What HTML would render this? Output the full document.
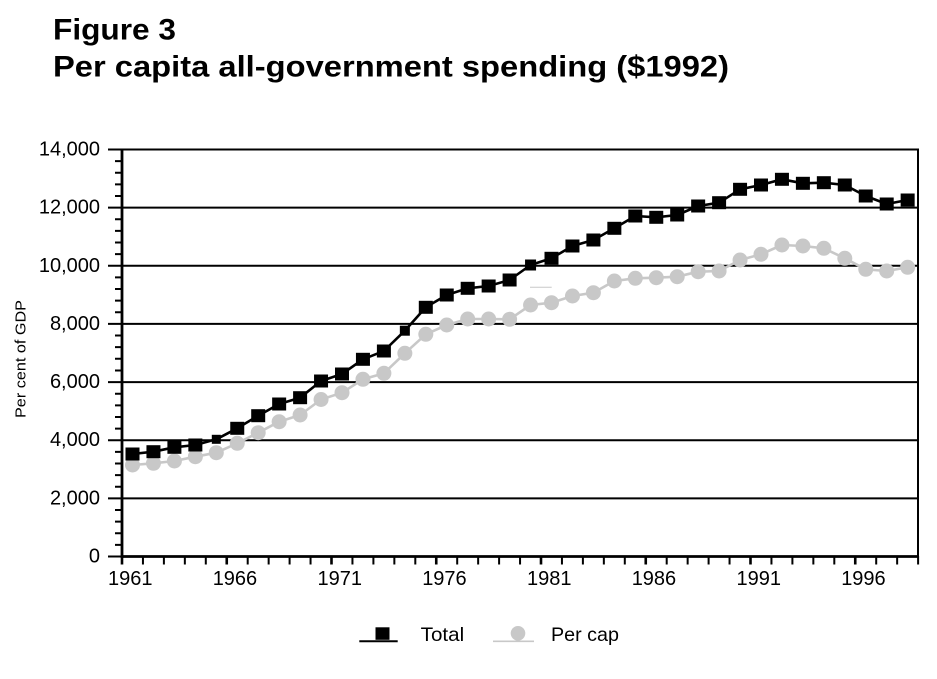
<!DOCTYPE html>
<html>
<head>
<meta charset="utf-8">
<style>
html,body{margin:0;padding:0;background:#fff;}
svg{display:block;}
text{font-family:"Liberation Sans",Arial,sans-serif;fill:#000;}
</style>
</head>
<body>
<svg width="937" height="679" viewBox="0 0 937 679" xmlns="http://www.w3.org/2000/svg">
<rect width="937" height="679" fill="#fff"/>
<!-- Titles -->
<text x="53" y="39.5" font-size="30" font-weight="bold" textLength="123" lengthAdjust="spacingAndGlyphs">Figure 3</text>
<text x="53" y="76.7" font-size="30" font-weight="bold" textLength="676" lengthAdjust="spacingAndGlyphs">Per capita all-government spending ($1992)</text>

<!-- Gridlines -->
<g stroke="#000" stroke-width="2">
<line x1="122" y1="498.4" x2="918" y2="498.4"/>
<line x1="122" y1="440.2" x2="918" y2="440.2"/>
<line x1="122" y1="382.1" x2="918" y2="382.1"/>
<line x1="122" y1="323.9" x2="918" y2="323.9"/>
<line x1="122" y1="265.8" x2="918" y2="265.8"/>
<line x1="122" y1="207.6" x2="918" y2="207.6"/>
<line x1="121" y1="149.5" x2="918" y2="149.5"/>
<line x1="918" y1="148.5" x2="918" y2="557"/>
</g>

<!-- Y ticks -->
<path stroke="#000" stroke-width="2" fill="none" d="
M115 544.87H122M115 533.24H122M115 521.61H122M115 509.98H122
M115 486.73H122M115 475.1H122M115 463.47H122M115 451.84H122
M115 428.58H122M115 416.95H122M115 405.32H122M115 393.69H122
M115 370.44H122M115 358.81H122M115 347.18H122M115 335.55H122
M115 312.29H122M115 300.66H122M115 289.03H122M115 277.4H122
M115 254.15H122M115 242.52H122M115 230.89H122M115 219.26H122
M115 196H122M115 184.37H122M115 172.74H122M115 161.11H122
M108 556.5H122M108 498.4H122M108 440.2H122M108 382.1H122M108 323.9H122M108 265.8H122M108 207.6H122M108 149.5H122"/>

<!-- X ticks -->
<path stroke="#000" stroke-width="2" fill="none" d="
M142.95 556V564.5M163.9 556V564.5M184.85 556V564.5M205.8 556V564.5
M247.7 556V564.5M268.65 556V564.5M289.6 556V564.5M310.55 556V564.5
M352.45 556V564.5M373.4 556V564.5M394.35 556V564.5M415.3 556V564.5
M457.2 556V564.5M478.15 556V564.5M499.1 556V564.5M520.05 556V564.5
M561.95 556V564.5M582.9 556V564.5M603.85 556V564.5M624.8 556V564.5
M666.7 556V564.5M687.65 556V564.5M708.6 556V564.5M729.55 556V564.5
M771.45 556V564.5M792.4 556V564.5M813.35 556V564.5M834.3 556V564.5
M876.2 556V564.5M897.15 556V564.5M918.1 556V564.5"/>
<path stroke="#000" stroke-width="2.6" fill="none" d="
M122 556V564.5M226.75 556V564.5M331.5 556V564.5M436.25 556V564.5M541 556V564.5M645.75 556V564.5M750.5 556V564.5M855.25 556V564.5"/>

<!-- Axes -->
<line x1="122" y1="148.5" x2="122" y2="558" stroke="#000" stroke-width="2.8"/>
<line x1="121" y1="556.5" x2="919" y2="556.5" stroke="#000" stroke-width="2.8"/>

<!-- Y labels -->
<g font-size="20" text-anchor="end">
<text x="100" y="155.5">14,000</text>
<text x="100" y="213.6">12,000</text>
<text x="100" y="271.8">10,000</text>
<text x="100" y="329.9">8,000</text>
<text x="100" y="388.1">6,000</text>
<text x="100" y="446.2">4,000</text>
<text x="100" y="504.4">2,000</text>
<text x="100" y="562.5">0</text>
</g>

<!-- Y axis title -->
<text transform="translate(25.5,359) rotate(-90)" font-size="15" text-anchor="middle" textLength="118" lengthAdjust="spacingAndGlyphs">Per cent of GDP</text>

<!-- X labels -->
<g font-size="20">
<text x="108" y="585">1961</text>
<text x="212.7" y="585">1966</text>
<text x="317.5" y="585">1971</text>
<text x="422.2" y="585">1976</text>
<text x="527" y="585">1981</text>
<text x="631.7" y="585">1986</text>
<text x="736.5" y="585">1991</text>
<text x="841.2" y="585">1996</text>
</g>

<!-- Per cap series -->
<polyline fill="none" stroke="#c8c8c8" stroke-width="2.6" stroke-linejoin="round" points="132.5,465 153.45,463.3 174.4,461 195.35,456.7 216.3,452.7 237.25,443.3 258.2,432.7 279.15,421.7 300.1,415 321.05,399.5 342,392.7 362.95,379.3 383.9,373.3 404.85,353.3 425.8,334.3 446.75,325 467.7,319 488.65,319 509.6,319.3 530.55,305 551.5,302.7 572.45,296 593.4,292.7 614.35,281 635.3,278.3 656.25,277.7 677.2,276.7 698.15,271.7 719.1,271 740.05,260 761,254.3 781.95,245 802.9,246 823.85,248.3 844.8,258.3 865.75,269.3 886.7,271 907.65,267.3"/>
<line x1="530" y1="287.3" x2="551.7" y2="287.3" stroke="#c8c8c8" stroke-width="1"/>

<!-- Total series -->
<polyline fill="none" stroke="#000" stroke-width="2.6" stroke-linejoin="round" points="132.5,454 153.45,451.7 174.4,447.3 195.35,445 216.3,439.3 237.25,428.3 258.2,415.7 279.15,404 300.1,397.7 321.05,381 342,374 362.95,359.3 383.9,351 404.85,330.7 425.8,307.3 446.75,295 467.7,288.3 488.65,286 509.6,280 530.55,265 551.5,258.3 572.45,246 593.4,240 614.35,228.3 635.3,216 656.25,217.3 677.2,215 698.15,206 719.1,202.7 740.05,189.3 761,185 781.95,179.3 802.9,183.3 823.85,182.7 844.8,185 865.75,196 886.7,204 907.65,200"/>

<!-- Per cap markers -->
<g fill="#c8c8c8">
<circle cx="132.5" cy="465" r="7.5"/>
<circle cx="153.45" cy="463.3" r="7.5"/>
<circle cx="174.4" cy="461" r="7.5"/>
<circle cx="195.35" cy="456.7" r="7.5"/>
<circle cx="216.3" cy="452.7" r="7.5"/>
<circle cx="237.25" cy="443.3" r="7.5"/>
<circle cx="258.2" cy="432.7" r="7.5"/>
<circle cx="279.15" cy="421.7" r="7.5"/>
<circle cx="300.1" cy="415" r="7.5"/>
<circle cx="321.05" cy="399.5" r="7.5"/>
<circle cx="342" cy="392.7" r="7.5"/>
<circle cx="362.95" cy="379.3" r="7.5"/>
<circle cx="383.9" cy="373.3" r="7.5"/>
<circle cx="404.85" cy="353.3" r="7.5"/>
<circle cx="425.8" cy="334.3" r="7.5"/>
<circle cx="446.75" cy="325" r="7.5"/>
<circle cx="467.7" cy="319" r="7.5"/>
<circle cx="488.65" cy="319" r="7.5"/>
<circle cx="509.6" cy="319.3" r="7.5"/>
<circle cx="530.55" cy="305" r="7.5"/>
<circle cx="551.5" cy="302.7" r="7.5"/>
<circle cx="572.45" cy="296" r="7.5"/>
<circle cx="593.4" cy="292.7" r="7.5"/>
<circle cx="614.35" cy="281" r="7.5"/>
<circle cx="635.3" cy="278.3" r="7.5"/>
<circle cx="656.25" cy="277.7" r="7.5"/>
<circle cx="677.2" cy="276.7" r="7.5"/>
<circle cx="698.15" cy="271.7" r="7.5"/>
<circle cx="719.1" cy="271" r="7.5"/>
<circle cx="740.05" cy="260" r="7.5"/>
<circle cx="761" cy="254.3" r="7.5"/>
<circle cx="781.95" cy="245" r="7.5"/>
<circle cx="802.9" cy="246" r="7.5"/>
<circle cx="823.85" cy="248.3" r="7.5"/>
<circle cx="844.8" cy="258.3" r="7.5"/>
<circle cx="865.75" cy="269.3" r="7.5"/>
<circle cx="886.7" cy="271" r="7.5"/>
<circle cx="907.65" cy="267.3" r="7.5"/>
</g>

<!-- Total markers -->
<g fill="#000">
<rect x="125.5" y="447.5" width="14" height="13"/>
<rect x="146.45" y="445.2" width="14" height="13"/>
<rect x="167.4" y="440.8" width="14" height="13"/>
<rect x="188.35" y="438.5" width="14" height="13"/>
<rect x="211.8" y="434.8" width="9" height="9"/>
<rect x="230.25" y="421.8" width="14" height="13"/>
<rect x="251.2" y="409.2" width="14" height="13"/>
<rect x="272.15" y="397.5" width="14" height="13"/>
<rect x="293.1" y="391.2" width="14" height="13"/>
<rect x="314.05" y="374.5" width="14" height="13"/>
<rect x="335" y="367.5" width="14" height="13"/>
<rect x="355.95" y="352.8" width="14" height="13"/>
<rect x="376.9" y="344.5" width="14" height="13"/>
<rect x="399.85" y="325.7" width="10" height="10"/>
<rect x="418.8" y="300.8" width="14" height="13"/>
<rect x="439.75" y="288.5" width="14" height="13"/>
<rect x="460.7" y="281.8" width="14" height="13"/>
<rect x="481.65" y="279.5" width="14" height="13"/>
<rect x="502.6" y="273.5" width="14" height="13"/>
<rect x="525.05" y="259.5" width="11" height="11"/>
<rect x="544.5" y="251.8" width="14" height="13"/>
<rect x="565.45" y="239.5" width="14" height="13"/>
<rect x="586.4" y="233.5" width="14" height="13"/>
<rect x="607.35" y="221.8" width="14" height="13"/>
<rect x="628.3" y="209.5" width="14" height="13"/>
<rect x="649.25" y="210.8" width="14" height="13"/>
<rect x="670.2" y="208.5" width="14" height="13"/>
<rect x="691.15" y="199.5" width="14" height="13"/>
<rect x="712.1" y="196.2" width="14" height="13"/>
<rect x="733.05" y="182.8" width="14" height="13"/>
<rect x="754" y="178.5" width="14" height="13"/>
<rect x="774.95" y="172.8" width="14" height="13"/>
<rect x="795.9" y="176.8" width="14" height="13"/>
<rect x="816.85" y="176.2" width="14" height="13"/>
<rect x="837.8" y="178.5" width="14" height="13"/>
<rect x="858.75" y="189.5" width="14" height="13"/>
<rect x="879.7" y="197.5" width="14" height="13"/>
<rect x="900.65" y="193.5" width="14" height="13"/>
</g>

<!-- Legend -->
<line x1="359.3" y1="641.3" x2="397.7" y2="641.3" stroke="#000" stroke-width="2"/>
<rect x="375.5" y="627.3" width="14" height="12.5" fill="#000"/>
<text x="420.7" y="641" font-size="19.5" textLength="43.5" lengthAdjust="spacingAndGlyphs">Total</text>
<line x1="493" y1="641.3" x2="534" y2="641.3" stroke="#c8c8c8" stroke-width="1.6"/>
<circle cx="518" cy="633.3" r="7.3" fill="#c8c8c8"/>
<text x="551" y="641" font-size="19.5" textLength="68" lengthAdjust="spacingAndGlyphs">Per cap</text>
</svg>
</body>
</html>
